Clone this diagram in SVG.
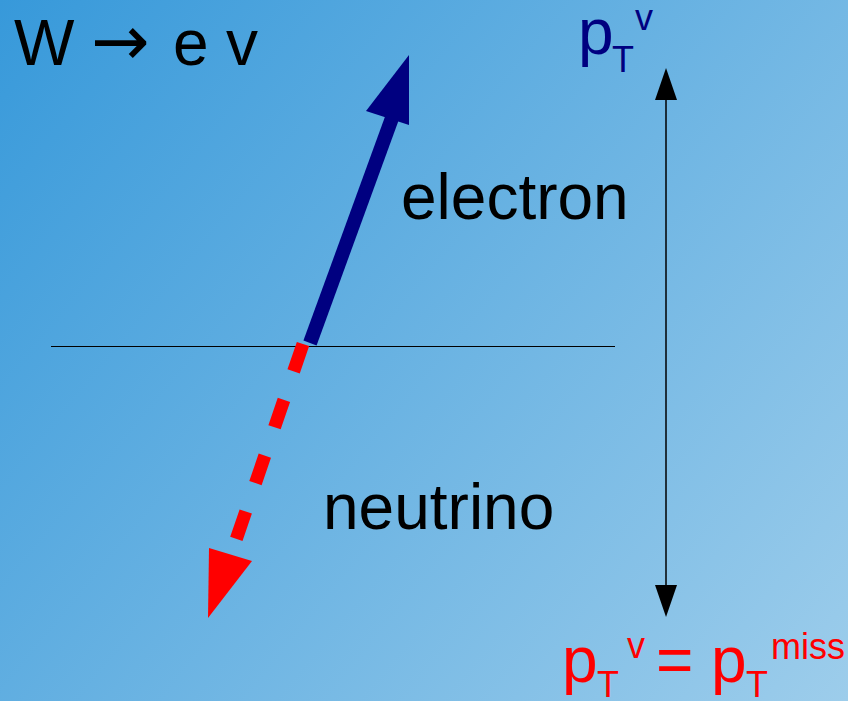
<svg xmlns="http://www.w3.org/2000/svg" width="848" height="701" viewBox="0 0 848 701">
<defs>
<linearGradient id="bg" x1="0" y1="0" x2="848" y2="701" gradientUnits="userSpaceOnUse">
<stop offset="0" stop-color="#3799da"/>
<stop offset="1" stop-color="#9dcdeb"/>
</linearGradient>
</defs>
<style>
text{font-family:"Liberation Sans",Arial,sans-serif}
.big{font-size:64px}
.sub{font-size:36px}
.navy{fill:#000080}
.red{fill:#ff0000}
.arr{font-family:"DejaVu Sans",sans-serif;font-size:70px}
</style>
<rect width="848" height="701" fill="url(#bg)"/>
<g id="connectors">
<line x1="51" y1="346.5" x2="615" y2="346.5" stroke="#000" stroke-width="1"/>
<line x1="666" y1="96" x2="666" y2="590" stroke="#000" stroke-width="1.5"/>
<polygon points="666,68 655,100 677,100" fill="#000"/>
<polygon points="666,617 655,585 677,585" fill="#000"/>
</g>
<g id="neutrino-arrow">
<line x1="303" y1="344" x2="236" y2="540" stroke="#ff0000" stroke-width="13" stroke-dasharray="29 30"/>
<polygon points="209,548 252,561 208,618" fill="#ff0000"/>
</g>
<g id="electron-arrow">
<line x1="310" y1="343" x2="392" y2="118" stroke="#000080" stroke-width="14"/>
<polygon points="409,55 366,111 409,125" fill="#000080"/>
</g>
<g id="title"><text y="65" class="big"><tspan x="14">W</tspan><tspan x="91" class="arr">→</tspan><tspan x="173">e</tspan><tspan x="226">v</tspan></text></g>
<g id="electron-label"><text x="401" y="219" class="big">electron</text></g>
<g id="neutrino-label"><text x="323" y="529" class="big">neutrino</text></g>
<g id="ptv-top">
<text x="578" y="54" class="big navy">p</text>
<text x="612" y="72" class="sub navy">T</text>
<text x="635" y="30" class="sub navy">v</text>
</g>
<g id="ptmiss">
<text x="562" y="682" class="big red">p</text>
<text x="597" y="697" class="sub red">T</text>
<text x="627" y="658" class="sub red">v</text>
<text x="656" y="682" class="big red">=</text>
<text x="711" y="682" class="big red">p</text>
<text x="746" y="697" class="sub red">T</text>
<text x="771" y="659" class="sub red">miss</text>
</g>
</svg>
